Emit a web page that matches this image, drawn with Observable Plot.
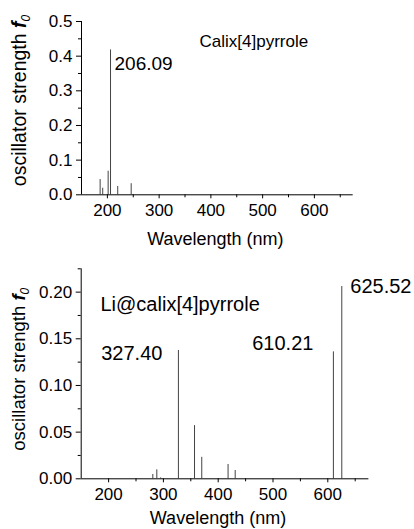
<!DOCTYPE html>
<html>
<head>
<meta charset="utf-8">
<script src="https://cdn.jsdelivr.net/npm/d3@7"></script>
<script src="https://cdn.jsdelivr.net/npm/@observablehq/plot@0.6"></script>
<style>
  html, body { margin: 0; padding: 0; background: #fff; }
  #chart svg { display: block; }
</style>
</head>
<body>
<div id="chart"></div>
<script>
// ---- Data ----
const topWavelengths = [186, 191, 201.5, 206.09, 220, 246];
const topStrengths   = [0.044, 0.019, 0.068, 0.418, 0.024, 0.032];
const topLabeled     = [206.09];
const topName        = "Calix[4]pyrrole";

const botWavelengths = [280.7, 288, 295, 327.40, 356.8, 370, 418, 431, 610.21, 625.52];
const botStrengths   = [0.0046, 0.0096, 0.001, 0.1375, 0.057, 0.023, 0.0153, 0.0089, 0.136, 0.206];
const botLabeled     = [327.40, 610.21, 625.52];
const botName        = "Li@calix[4]pyrrole";

const xDomain      = [150, 675];
const xMajorTicks  = [200, 300, 400, 500, 600];
const xMinorTicks  = [250, 350, 450, 550, 650];
const topYDomain   = [0, 0.5];
const topYMajor    = [0, 0.1, 0.2, 0.3, 0.4, 0.5];
const topYMinor    = [0.05, 0.15, 0.25, 0.35, 0.45];
const botYDomain   = [0, 0.225];
const botYMajor    = [0, 0.05, 0.10, 0.15, 0.20];
const botYMinor    = [0.025, 0.075, 0.125, 0.175, 0.225];
const xTitle = "Wavelength (nm)";
const yTitle = "oscillator strength ";

const FONT = "'Liberation Sans', Arial, Helvetica, sans-serif";

const topData = topWavelengths.map((wl, i) => ({wl, f: topStrengths[i]}));
const botData = botWavelengths.map((wl, i) => ({wl, f: botStrengths[i]}));
const pick = (data, wl) => data.filter(d => d.wl === wl);

function axes(yMajor, yMinor, fmt) {
  return [
    Plot.ruleY([0], {stroke: "#000", strokeWidth: 1}),
    Plot.ruleX([xDomain[0]], {stroke: "#000", strokeWidth: 1}),
    Plot.axisX({ticks: xMajorTicks, tickSize: 4, tickPadding: 5, fontSize: 17, label: null, stroke: "#000"}),
    Plot.axisX({ticks: xMinorTicks, tickSize: 3, tickFormat: () => "", label: null}),
    Plot.axisY({ticks: yMajor, tickSize: 5, tickPadding: 4, fontSize: 17, label: null, tickFormat: fmt}),
    Plot.axisY({ticks: yMinor, tickSize: 3, tickFormat: () => "", label: null})
  ];
}

function addTitles(svg, xCenter, xBaseline, yX, yCenter, ySize) {
  const s = d3.select(svg);
  s.append("text")
    .attr("x", xCenter).attr("y", xBaseline)
    .attr("text-anchor", "middle")
    .attr("font-family", FONT).attr("font-size", 18).attr("fill", "#000")
    .text(xTitle);
  const t = s.append("text")
    .attr("transform", `translate(${yX},${yCenter}) rotate(-90)`)
    .attr("text-anchor", "middle")
    .attr("font-family", FONT).attr("font-size", ySize).attr("fill", "#000");
  t.append("tspan").text(yTitle);
  t.append("tspan").attr("font-weight", "bold").attr("font-style", "italic").text("f");
  t.append("tspan").attr("font-style", "italic").attr("font-size", 12).attr("dy", 4).text("0");
}

// ---- Top chart ----
const topSvg = Plot.plot({
  width: 414, height: 250,
  marginLeft: 81, marginRight: 61.3, marginTop: 21, marginBottom: 55.7,
  style: {fontFamily: FONT, color: "#000", background: "#fff"},
  x: {domain: xDomain},
  y: {domain: topYDomain},
  marks: [
    Plot.ruleX(topData, {x: "wl", y1: 0, y2: "f", stroke: "#444", strokeWidth: 1}),
    ...axes(topYMajor, topYMinor, d => d.toFixed(1)),
    Plot.text([topName], {frameAnchor: "top-left", dx: 118, dy: 25.7, lineAnchor: "bottom", textAnchor: "start", fontSize: 17, fill: "#000"}),
    Plot.text(topLabeled.flatMap(wl => pick(topData, wl)), {x: "wl", y: "f", text: d => d.wl.toFixed(2), textAnchor: "start", lineAnchor: "bottom", dx: 4, dy: 20, fontSize: 19, fill: "#000"})
  ]
});
addTitles(topSvg, 215.4, 245, 26, 100.5, 19.5);

// ---- Bottom chart ----
const botSvg = Plot.plot({
  width: 414, height: 279,
  marginLeft: 80.7, marginRight: 45.6, marginTop: 18.3, marginBottom: 50.7,
  style: {fontFamily: FONT, color: "#000", background: "#fff"},
  x: {domain: xDomain},
  y: {domain: botYDomain},
  marks: [
    Plot.ruleX(botData, {x: "wl", y1: 0, y2: "f", stroke: "#444", strokeWidth: 1}),
    ...axes(botYMajor, botYMinor, d => d.toFixed(2)),
    Plot.text([botName], {frameAnchor: "top-left", dx: 19.3, dy: 42.4, lineAnchor: "bottom", textAnchor: "start", fontSize: 20, fill: "#000"}),
    Plot.text(pick(botData, botLabeled[0]), {x: "wl", y: "f", text: d => d.wl.toFixed(2), textAnchor: "end", lineAnchor: "bottom", dx: -16, dy: 10, fontSize: 20, fill: "#000"}),
    Plot.text(pick(botData, botLabeled[1]), {x: "wl", y: "f", text: d => d.wl.toFixed(2), textAnchor: "end", lineAnchor: "bottom", dx: -20, dy: -1.4, fontSize: 20, fill: "#000"}),
    Plot.text(pick(botData, botLabeled[2]), {x: "wl", y: "f", text: d => d.wl.toFixed(2), textAnchor: "start", lineAnchor: "bottom", dx: 8.5, dy: 6.7, fontSize: 20, fill: "#000"})
  ]
});
addTitles(botSvg, 218, 273.5, 25, 119.2, 18.5);

document.getElementById("chart").append(topSvg, botSvg);
</script>
</body>
</html>
